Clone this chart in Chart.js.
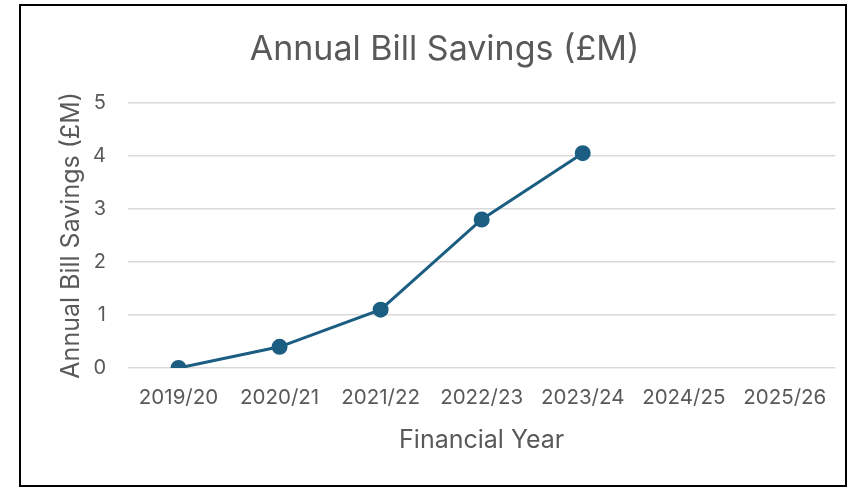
<!DOCTYPE html>
<html><head><meta charset="utf-8">
<script src="https://cdn.jsdelivr.net/npm/chart.js@4"></script>
<style>
html,body{margin:0;padding:0;background:#fff;}
#box{position:absolute;left:19px;top:4px;width:828px;height:483px;box-sizing:border-box;border:2px solid #000;background:#fff;}
#wrap{position:absolute;left:0;top:0;width:824px;height:479px;}
</style></head><body>
<div id="box"><div id="wrap"><canvas id="c"></canvas></div></div>
<script>
const categories = ["2019/20","2020/21","2021/22","2022/23","2023/24","2024/25","2025/26"];
const savings = [0, 0.4, 1.1, 2.8, 4.05, null, null];
const yTicks = [0,1,2,3,4,5];
const FONT = "Inter, 'Open Sans', sans-serif";
const GREY = "#595959";
new Chart(document.getElementById('c'), {
  type: 'line',
  data: { labels: categories, datasets: [{
    data: savings, borderColor: '#1B5E82', backgroundColor: '#1B5E82',
    borderWidth: 3, pointRadius: 6.5, pointHoverRadius: 6.5, tension: 0, spanGaps: false
  }]},
  options: {
    responsive: true, maintainAspectRatio: false, animation: false,
    layout: { padding: { left: 32, right: 9, top: 0, bottom: 0 } },
    plugins: {
      legend: { display: false }, tooltip: { enabled: false },
      title: { display: true, text: 'Annual Bill Savings (£M)', color: GREY,
        font: { family: FONT, size: 34, weight: 'normal' }, padding: { top: 23, bottom: 33 } }
    },
    scales: {
      x: { offset: true, grid: { display: false, drawTicks: false }, border: { display: false },
        afterFit: s => { s.height = 117; },
        ticks: { color: GREY, font: { family: FONT, size: 20.5 }, padding: 18, maxRotation: 0, autoSkip: false },
        title: { display: true, text: 'Financial Year', color: GREY, font: { family: FONT, size: 25 }, padding: { top: 0, bottom: 30 } } },
      y: { min: 0, max: 5, afterBuildTicks: ax => { ax.ticks = yTicks.map(v => ({ value: v })); },
        afterFit: s => { s.width = 75; },
        grid: { color: '#d9d9d9', lineWidth: 1.5, drawTicks: false }, border: { display: false },
        ticks: { color: GREY, font: { family: FONT, size: 20 }, padding: 22 },
        title: { display: true, text: 'Annual Bill Savings (£M)', color: GREY, font: { family: FONT, size: 25 }, padding: { top: 3, bottom: 0 } } }
    }
  }
});
</script></body></html>
